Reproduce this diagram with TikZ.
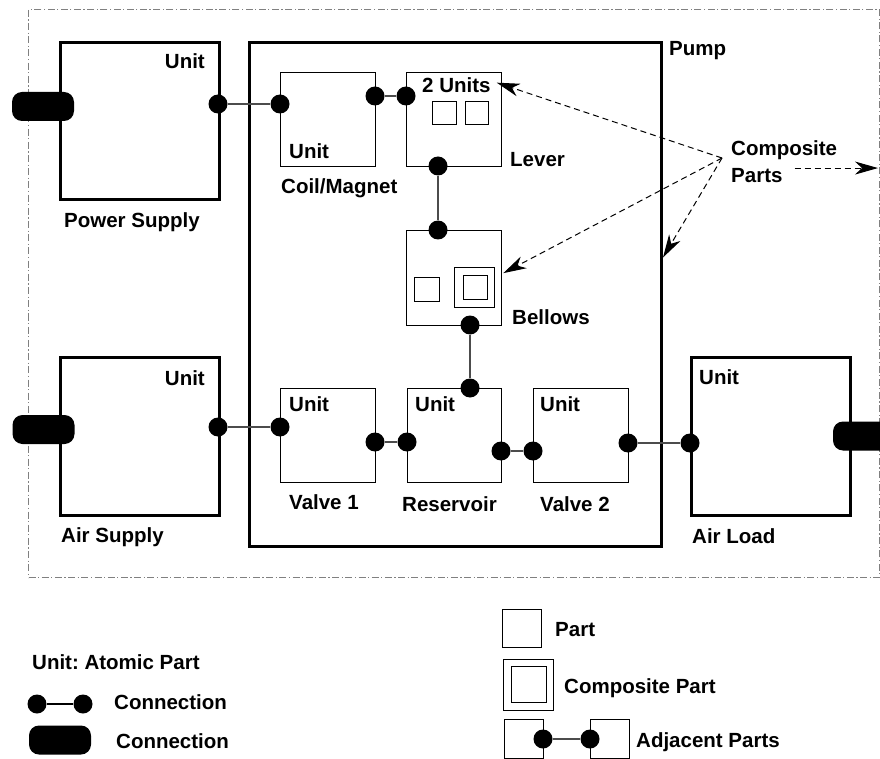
\documentclass[tikz,border=0pt]{standalone}
\usepackage{fontspec}
\setmainfont{Liberation Sans}
\usetikzlibrary{arrows.meta,calc}
\frenchspacing

\begin{document}
\begin{tikzpicture}[x=1pt,y=-1pt,
  font=\fontsize{20.5}{24}\selectfont\bfseries,
  heavybox/.style={draw, line width=3pt, inner sep=0, anchor=north west},
  partbox/.style={draw, line width=1.3pt, inner sep=0, anchor=north west},
  smallbox/.style={draw, line width=1.2pt, inner sep=0, anchor=north west},
  port/.style={circle, fill=black, minimum size=19pt, inner sep=0},
  plug/.style={rectangle, rounded corners=10pt, fill=black, minimum width=62pt, minimum height=29pt, inner sep=0},
  link/.style={draw=black!70, line width=1.2pt},
  lbl/.style={inner sep=0, anchor=base west},
  rlbl/.style={inner sep=0, anchor=base east},
  pointer/.style={draw=black, line width=1pt, dash pattern=on 6pt off 4pt,
    -{Stealth[length=23pt, width=13pt, inset=7pt]}},
  sysframe/.style={draw=black!50, line width=1pt, dash pattern=on 7pt off 2.5pt on 1.2pt off 2.5pt,
    inner sep=0, anchor=north west}
]
\clip (0,0) rectangle (880,759);

% system boundary
\node[sysframe, minimum width=851, minimum height=568] (sys) at (28,9) {};

% outer parts
\node[heavybox, minimum width=159, minimum height=157] (ps) at (59,41) {};
\node[heavybox, minimum width=412, minimum height=504] (pump) at (248,41) {};
\node[heavybox, minimum width=159, minimum height=158] (as) at (59,356) {};
\node[heavybox, minimum width=159, minimum height=158] (al) at (690,356) {};

% parts inside the pump
\node[partbox, minimum width=95, minimum height=94] (coil) at (280,72) {};
\node[partbox, minimum width=95, minimum height=94] (lever) at (406,72) {};
\node[partbox, minimum width=95, minimum height=95] (bellows) at (406,230) {};
\node[partbox, minimum width=95, minimum height=94] (valve1) at (280,388) {};
\node[partbox, minimum width=94, minimum height=94] (reservoir) at (407,388) {};
\node[partbox, minimum width=95, minimum height=94] (valve2) at (533,388) {};

% sub-parts of lever and bellows
\node[smallbox, minimum width=24, minimum height=23] (lu1) at (432,101) {};
\node[smallbox, minimum width=23, minimum height=23] (lu2) at (465,101) {};
\node[smallbox, minimum width=25, minimum height=24] (bu1) at (414,277) {};
\node[smallbox, minimum width=40, minimum height=40] (bc) at (454,267) {};
\node[smallbox, minimum width=24, minimum height=24] (bci) at (463,275) {};

% external plugs
\node[plug] (psplug) at (43,106.5) {};
\node[plug] (asplug) at (43.5,429.5) {};
\node[plug] (alplug) at (864,436) {};

% ports
\node[port] (psR) at (218,104) {};
\node[port] (coilL) at (280,104) {};
\node[port] (coilR) at (375,96) {};
\node[port] (leverL) at (406,96) {};
\node[port] (leverB) at (438,166) {};
\node[port] (bellT) at (438,230) {};
\node[port] (bellB) at (470,325) {};
\node[port] (resT) at (470,388) {};
\node[port] (asR) at (218,427) {};
\node[port] (v1L) at (280,427) {};
\node[port] (v1R) at (375,442) {};
\node[port] (resL) at (407,442) {};
\node[port] (resR) at (501,451) {};
\node[port] (v2L) at (533,451) {};
\node[port] (v2R) at (628,443) {};
\node[port] (alL) at (690,443) {};

% connections
\draw[link] (psR) -- (coilL);
\draw[link] (coilR) -- (leverL);
\draw[link] (leverB) -- (bellT);
\draw[link] (bellB) -- (resT);
\draw[link] (asR) -- (v1L);
\draw[link] (v1R) -- (resL);
\draw[link] (resR) -- (v2L);
\draw[link] (v2R) -- (alL);

% labels
\node[rlbl] (psu) at (205,69) {Unit};
\node[lbl] (psname) at (64,228) {Power Supply};
\node[lbl] (coilu) at (289,159) {Unit};
\node[lbl] (coilname) at (281,194) {Coil/Magnet};
\node[lbl] (units2) at (422,93) {2 Units};
\node[lbl] (levername) at (510,167) {Lever};
\node[lbl] (pumpname) at (669,56) {Pump};
\node[lbl] (comp) at (731,156) {Composite};
\node[lbl] (parts) at (731,183) {Parts};
\node[lbl] (bellname) at (512,324) {Bellows};
\node[rlbl] (asu) at (205,385) {Unit};
\node[lbl] (asname) at (61,542) {Air Supply};
\node[lbl] (v1u) at (289,411) {Unit};
\node[lbl] (v1name) at (289,509) {Valve 1};
\node[lbl] (resu) at (415,411) {Unit};
\node[lbl] (resname) at (402,511) {Reservoir};
\node[lbl] (v2u) at (540,411) {Unit};
\node[lbl] (v2name) at (540,511) {Valve 2};
\node[lbl] (alu) at (699,384) {Unit};
\node[lbl] (alname) at (692,543) {Air Load};

% pointers from the "Composite Parts" note
\coordinate (cp) at (722,158);
\draw[pointer] (cp) -- ($(units2.east)+(6,-3)$);
\draw[pointer] (cp) -- ($(bellows.east)+(1,-5)$);
\draw[pointer] (cp) -- ($(pump.north east)!0.427!(pump.south east)$);
\draw[pointer] ($(parts.east)+(12,-8)$) -- ($(sys.east |- parts.east)+(-2,-8)$);

% legend, left
\node[lbl] (legunit) at (32,669) {Unit: Atomic Part};
\node[port] (lgA) at (37,704) {};
\node[port] (lgB) at (83,704) {};
\draw[line width=1.2pt] (lgA) -- (lgB);
\node[lbl] (legconn1) at (114,709) {Connection};
\node[plug] (lgplug) at (60,740) {};
\node[lbl] (legconn2) at (116,748) {Connection};

% legend, right
\node[smallbox, minimum width=39, minimum height=38] (lgpart) at (502,609) {};
\node[lbl] (legpart) at (555,636) {Part};
\node[smallbox, minimum width=50, minimum height=51] (lgcomp) at (503,659) {};
\node[smallbox, minimum width=35, minimum height=36] (lgcompi) at (511,666) {};
\node[lbl] (legcomp) at (564,693) {Composite Part};
\node[smallbox, minimum width=39, minimum height=39] (lgadj1) at (504,719) {};
\node[smallbox, minimum width=39, minimum height=39] (lgadj2) at (590,719) {};
\node[port] (lgadjA) at (543,739) {};
\node[port] (lgadjB) at (590,739) {};
\draw[link] (lgadjA) -- (lgadjB);
\node[lbl] (legadj) at (636,747) {Adjacent Parts};
\end{tikzpicture}
\end{document}
